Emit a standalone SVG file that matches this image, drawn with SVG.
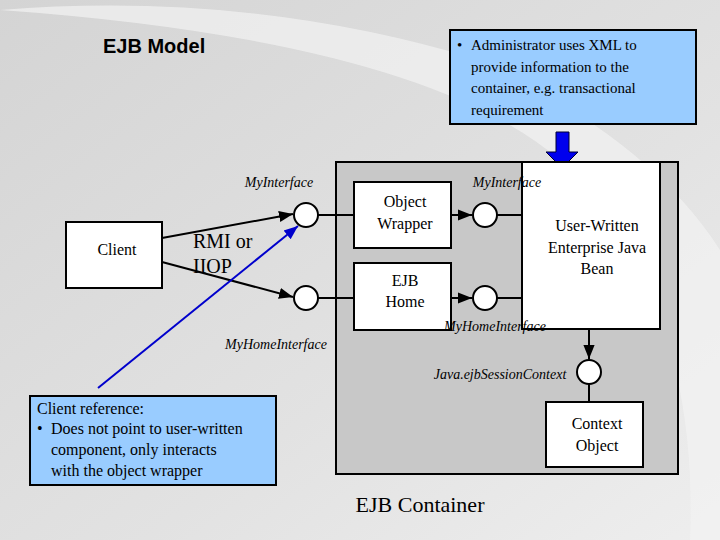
<svg xmlns="http://www.w3.org/2000/svg" width="720" height="540" viewBox="0 0 720 540">
<defs>
<linearGradient id="bg" x1="0" y1="0" x2="1" y2="1"><stop offset="0" stop-color="#d4d4d4"/><stop offset="0.6" stop-color="#e2e2e2"/><stop offset="1" stop-color="#eeeeee"/></linearGradient>
<marker id="ah" viewBox="0 0 10 10" refX="10" refY="5" markerWidth="7" markerHeight="7" orient="auto"><path d="M0,1 L10,5 L0,9 z" fill="#000"/></marker>
<marker id="bh" viewBox="0 0 10 10" refX="10" refY="5" markerWidth="7" markerHeight="7" orient="auto"><path d="M0,1 L10,5 L0,9 z" fill="#0000cc"/></marker>
<style>
.box{fill:#fff;stroke:#000;stroke-width:2}
.note{fill:#99ccff;stroke:#000;stroke-width:2}
.c{fill:#fff;stroke:#000;stroke-width:2}
.ln{stroke:#000;stroke-width:2;fill:none}
</style>
</defs>
<rect width="720" height="540" fill="url(#bg)"/>
<path d="M0,10 Q250,-10 480,60 Q650,140 720,250 L720,540 L690,540 Q700,300 560,160 Q420,40 0,10 z" fill="#f2f2f2" opacity="0.7"/>
<text x="103" y="53" font-family="Liberation Sans, Arial, sans-serif" font-size="20" font-weight="bold" fill="#000">EJB Model</text>
<g id="container"><rect x="336" y="162" width="342" height="312" fill="#c8c8c8" stroke="#000" stroke-width="2"/>
<text x="420" y="512" font-family="Liberation Serif, serif" font-size="22" text-anchor="middle">EJB Container</text></g>
<g id="admin"><rect class="note" x="450" y="30" width="246" height="94"/>
<text font-family="Liberation Serif, serif" font-size="15"><tspan x="457" y="50">•</tspan><tspan x="471" y="50">Administrator uses XML to</tspan><tspan x="471" y="72">provide information to the</tspan><tspan x="471" y="93">container, e.g. transactional</tspan><tspan x="471" y="115">requirement</tspan></text></g>
<g id="bluearrow"><path d="M556,132 H569 V152 H578 L562,168 L546,152 H556 z" fill="#0000ee" stroke="#000033" stroke-width="1"/></g>
<g id="client"><rect class="box" x="66" y="222" width="96" height="66"/><text font-family="Liberation Serif, serif" font-size="16" x="117" y="255" text-anchor="middle">Client</text></g>
<g id="wrapper"><rect class="box" x="354" y="182" width="97" height="66"/><text font-family="Liberation Serif, serif" font-size="16" x="405" y="207" text-anchor="middle">Object</text><text font-family="Liberation Serif, serif" font-size="16" x="405" y="229" text-anchor="middle">Wrapper</text></g>
<g id="home"><rect class="box" x="354" y="263" width="97" height="67"/><text font-family="Liberation Serif, serif" font-size="16" x="405" y="286" text-anchor="middle">EJB</text><text font-family="Liberation Serif, serif" font-size="16" x="405" y="307" text-anchor="middle">Home</text></g>
<g id="bean"><rect class="box" x="522" y="162" width="138" height="167"/><text font-family="Liberation Serif, serif" font-size="16" text-anchor="middle"><tspan x="597" y="231">User-Written</tspan><tspan x="597" y="253">Enterprise Java</tspan><tspan x="597" y="274">Bean</tspan></text></g>
<g id="ctxobj"><rect class="box" x="546" y="402" width="97" height="65"/><text font-family="Liberation Serif, serif" font-size="16" x="597" y="429" text-anchor="middle">Context</text><text font-family="Liberation Serif, serif" font-size="16" x="597" y="451" text-anchor="middle">Object</text></g>
<g id="clientref"><rect class="note" x="30" y="396" width="246" height="89"/>
<text font-family="Liberation Serif, serif" font-size="16"><tspan x="37" y="414">Client reference:</tspan><tspan x="37" y="434">•</tspan><tspan x="51" y="434">Does not point to user-written</tspan><tspan x="51" y="455">component, only interacts</tspan><tspan x="51" y="476">with the object wrapper</tspan></text></g>
<g id="connectors">
<path class="ln" d="M162,238 L293,214" marker-end="url(#ah)"/>
<path class="ln" d="M162,262 L293,297" marker-end="url(#ah)"/>
<path class="ln" d="M318,215 H354 M318,298 H354"/>
<path class="ln" d="M451,215 H472" marker-end="url(#ah)"/>
<path class="ln" d="M451,298 H472" marker-end="url(#ah)"/>
<path class="ln" d="M497,215 H522 M497,298 H522"/>
<path class="ln" d="M589,329 V359" marker-end="url(#ah)"/>
<path class="ln" d="M589,384 V402"/>
<path d="M98,388 L298,226" stroke="#0000cc" stroke-width="2" fill="none" marker-end="url(#bh)"/>
</g>
<g id="ports">
<circle class="c" cx="306" cy="215" r="12"/><circle class="c" cx="306" cy="298" r="12"/>
<circle class="c" cx="485" cy="215" r="12"/><circle class="c" cx="485" cy="298" r="12"/>
<circle class="c" cx="589" cy="372" r="12"/>
</g>
<g id="labels" font-family="Liberation Serif, serif" font-size="14" font-style="italic">
<text x="279" y="187" text-anchor="middle">MyInterface</text>
<text x="507" y="187" text-anchor="middle">MyInterface</text>
<text x="276" y="349" text-anchor="middle">MyHomeInterface</text>
<text x="495" y="331" text-anchor="middle">MyHomeInterface</text>
<text x="500" y="379" text-anchor="middle">Java.ejbSessionContext</text>
<text font-size="20" font-style="normal" x="193" y="248">RMI or</text>
<text font-size="20" font-style="normal" x="193" y="273">IIOP</text>
</g>
</svg>
